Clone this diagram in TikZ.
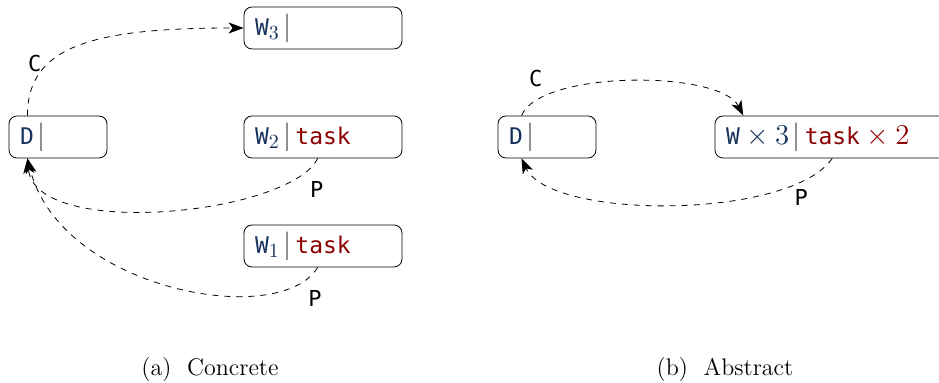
\documentclass[tikz,border=0pt]{standalone}
\usepackage{fontspec}
\setmonofont{DejaVu Sans Mono}[Scale=0.82]
\usetikzlibrary{positioning}
\usetikzlibrary{arrows.meta}
\definecolor{procblue}{RGB}{22,50,92}
\definecolor{taskred}{RGB}{140,0,0}
\newcommand{\qsep}{\,{\color{black!75}$|$}\,}

\begin{document}
\begin{tikzpicture}[x=0.5pt,y=0.5pt,
% Process style
    proc/.style={rectangle,draw,rounded corners=4pt,minimum height=21pt,
		inner xsep=5.5pt,inner ysep=2pt,align=left,font={\fontsize{14pt}{15}\ttfamily}},
    procw/.style={proc,text width=68pt},
    procd/.style={proc,text width=38pt},
% Message style
    msg/.style={dashed,-{Stealth[length=7.5pt,width=5.5pt,inset=2pt]}},
    lbl/.style={font={\fontsize{13.4pt}{15}\ttfamily}},
    caption/.style={font={\fontsize{12pt}{14}\selectfont}}
    ]
  \useasboundingbox (0,0) rectangle (939,-383);

  % (a) concrete
  \node (w3) [procw] at (323,-28) {{\color{procblue}W$_3$}\qsep};
  \node (dl) [procd] at (58,-137) {{\color{procblue}D}\qsep};
  \node (w2) [procw] at (323,-137) {{\color{procblue}W$_2$}\qsep{\color{taskred}task}};
  \node (w1) [procw] at (323,-246) {{\color{procblue}W$_1$}\qsep{\color{taskred}task}};

  \draw[msg] (dl.145) .. controls +(0,70) and +(-150,0) .. node[lbl,pos=0.32,left] {C} (w3.west);
  \draw[msg] (w2.256) .. controls (290,-215) and (35,-240) .. node[lbl,pos=0.1,below right] {P} (dl.215);
  \draw[msg] (w1.256) .. controls (280,-330) and (60,-290) .. node[lbl,pos=0.1,below right] {P} (dl.215);

  % (b) abstract
  \node (dr) [procd] at (547,-137) {{\color{procblue}D}\qsep};
  \node (wr) [proc,text width=110pt] at (836,-137)
    {{\color{procblue}W${}\times 3$}\qsep{\color{taskred}task${}\times 2$}};

  \draw[msg] (dr.140) .. controls (540,-70) and (720,-70) .. node[lbl,pos=0.2,above left] {C} (wr.167);
  \draw[msg] (wr.260) .. controls (790,-220) and (550,-220) .. node[lbl,pos=0.15,below] {P} (dr.220);

  \node (capa) [caption] at (210,-370) {(a)\ \ Concrete};
  \node (capb) [caption] at (725,-370) {(b)\ \ Abstract};
\end{tikzpicture}
\end{document}
